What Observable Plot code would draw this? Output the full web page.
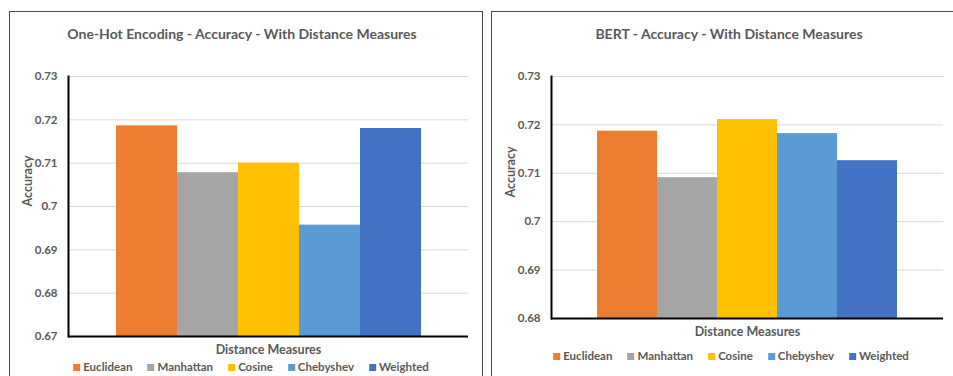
<!DOCTYPE html>
<html>
<head>
<meta charset="utf-8">
<script src="https://cdn.jsdelivr.net/npm/d3@7"></script>
<script src="https://cdn.jsdelivr.net/npm/@observablehq/plot@0.6"></script>
<style>
  html, body { margin: 0; padding: 0; background: #fff; }
  #root { position: relative; width: 953px; height: 376px; overflow: hidden; font-family: Lato, "Open Sans", sans-serif; }
  .panel { position: absolute; border: 1.5px solid #4a4a4a; box-sizing: border-box; background: #fff; }
  .title { position: absolute; font-size: 14px; font-weight: bold; color: #595959; white-space: nowrap; transform: translateX(-50%); }
  .legend { position: absolute; display: flex; gap: 15px; transform: translateX(-50%); white-space: nowrap; font-size: 11.5px; font-weight: bold; color: #595959; }
  .legend span.sw { display: inline-block; width: 7px; height: 7px; margin-right: 3px; vertical-align: 0px; }
  .plotwrap { position: absolute; top: 0; }
</style>
</head>
<body>
<div id="root">
  <div class="panel" style="left:9px; top:11px; width:474px; height:400px;"></div>
  <div class="panel" style="left:491px; top:11px; width:480px; height:400px;"></div>
  <div class="title" style="left:242px; top:25px;">One-Hot Encoding - Accuracy - With Distance Measures</div>
  <div class="title" style="left:729px; top:25px;">BERT - Accuracy - With Distance Measures</div>
  <div id="leftPlot" class="plotwrap" style="left:0px;"></div>
  <div id="rightPlot" class="plotwrap" style="left:483px;"></div>
  <div id="leftLegend" class="legend" style="left:251px; top:360px;"></div>
  <div id="rightLegend" class="legend" style="left:731px; top:349px;"></div>
</div>
<script>
const measures = ["Euclidean", "Manhattan", "Cosine", "Chebyshev", "Weighted"];
const colors = ["#ED7D31", "#A5A5A5", "#FFC000", "#5B9BD5", "#4472C4"];
const oneHotAccuracy = [0.7186, 0.7078, 0.7100, 0.6957, 0.7180];
const bertAccuracy = [0.7187, 0.7091, 0.7211, 0.7182, 0.7126];
const oneHotTicks = [0.67, 0.68, 0.69, 0.70, 0.71, 0.72, 0.73];
const bertTicks = [0.68, 0.69, 0.70, 0.71, 0.72, 0.73];
const yTitle = "Accuracy";
const xTitle = "Distance Measures";

function chart(values, ticks, opts) {
  const data = measures.map((m, i) => ({measure: m, value: values[i]}));
  const lo = ticks[0], hi = ticks[ticks.length - 1];
  return Plot.plot({
    width: opts.width,
    height: 376,
    marginLeft: opts.marginLeft,
    marginRight: opts.marginRight,
    marginTop: 76,
    marginBottom: opts.marginBottom,
    style: {background: "transparent", overflow: "visible", fontFamily: "Lato, 'Open Sans', sans-serif"},
    x: {domain: measures, paddingInner: 0, paddingOuter: opts.paddingOuter, axis: null},
    y: {domain: [lo, hi], ticks: ticks, axis: null},
    color: {domain: measures, range: colors},
    marks: [
      Plot.gridY(ticks, {stroke: "#d9d9d9", strokeOpacity: 1, strokeWidth: 1}),
      Plot.barY(data, {x: "measure", y1: lo, y2: "value", fill: "measure"}),
      Plot.axisY(ticks, {
        tickSize: 0, tickPadding: 11, fontSize: 11.5, fontWeight: "bold", fill: "#595959",
        tickFormat: d => String(+d.toFixed(2)), label: null
      }),
      Plot.text([yTitle], {
        frameAnchor: "left", rotate: -90, dx: -41, text: d => d,
        fontSize: 12.5, fontWeight: "bold", fill: "#595959"
      }),
      Plot.text([xTitle], {
        frameAnchor: "bottom", dy: 17, text: d => d,
        fontSize: 12.5, fontWeight: "bold", fill: "#595959"
      }),
      Plot.ruleY([lo], {stroke: "#000", strokeWidth: 2}),
      Plot.frame({anchor: "left", stroke: "#000", strokeWidth: 2})
    ]
  });
}

document.getElementById("leftPlot").append(chart(oneHotAccuracy, oneHotTicks, {
  width: 483, marginLeft: 68, marginRight: 15, marginBottom: 40, paddingOuter: 0.76
}));
document.getElementById("rightPlot").append(chart(bertAccuracy, bertTicks, {
  width: 470, marginLeft: 68, marginRight: 10, marginBottom: 58, paddingOuter: 0.745
}));

function legend(id) {
  const el = document.getElementById(id);
  measures.forEach((m, i) => {
    const item = document.createElement("div");
    const sw = document.createElement("span");
    sw.className = "sw";
    sw.style.background = colors[i];
    item.append(sw, document.createTextNode(m));
    el.append(item);
  });
}
legend("leftLegend");
legend("rightLegend");
</script>
</body>
</html>
